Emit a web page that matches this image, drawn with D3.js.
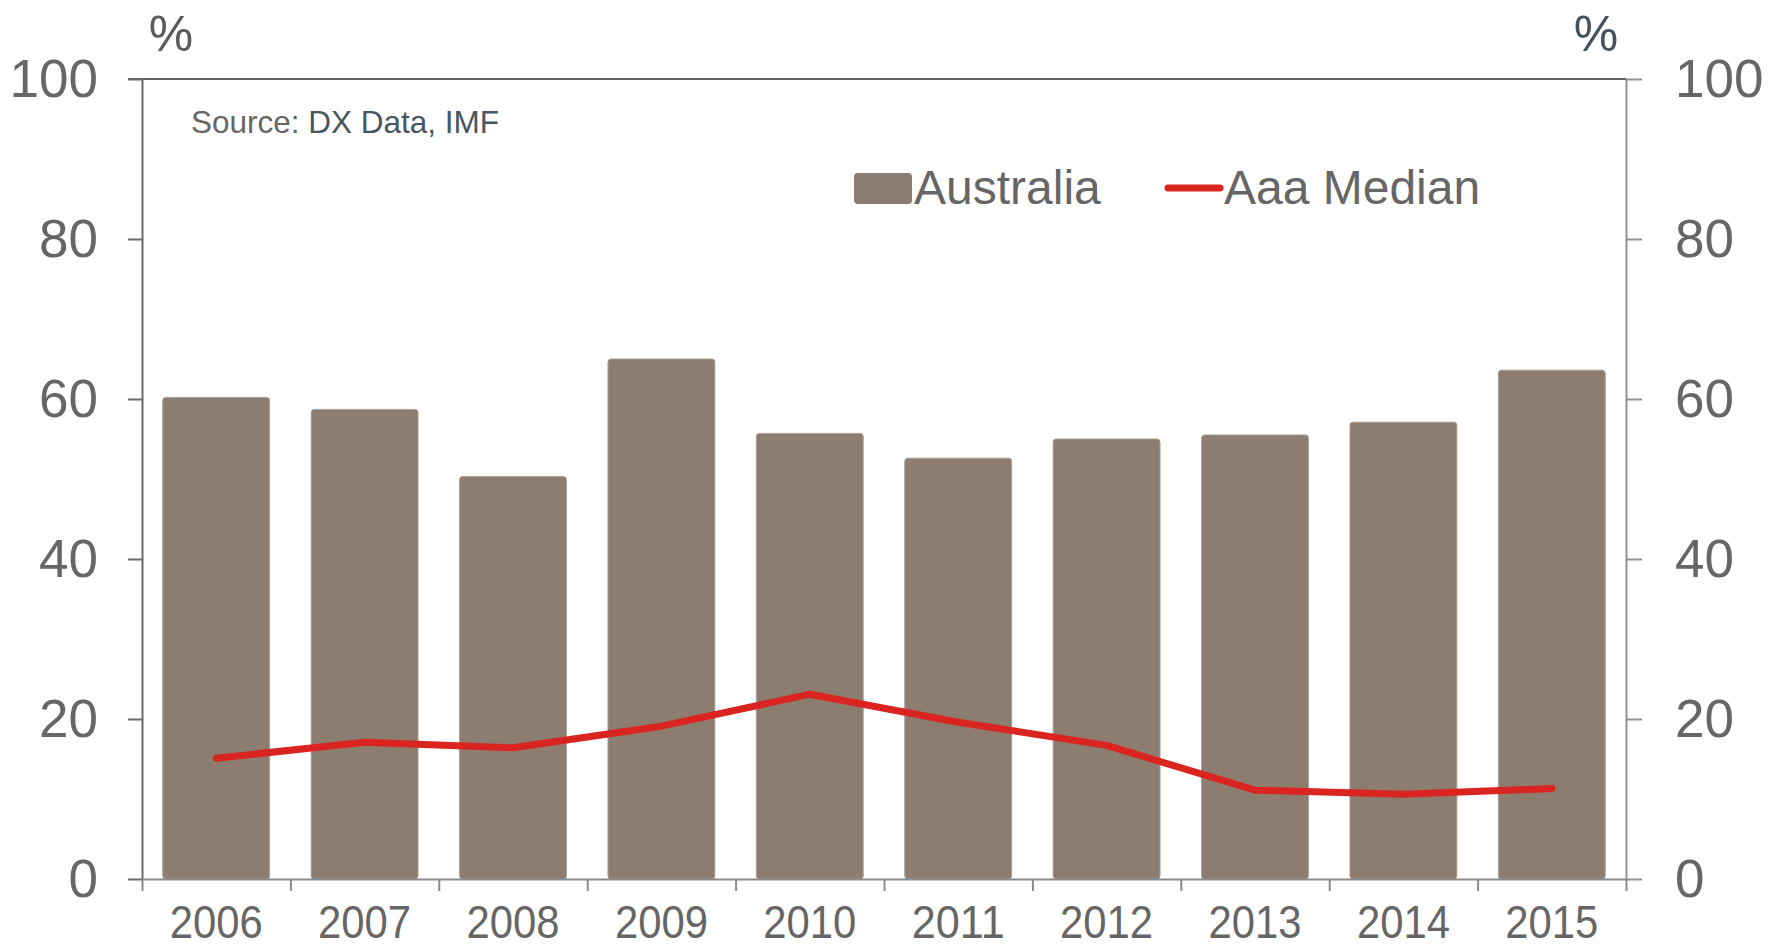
<!DOCTYPE html>
<html>
<head>
<meta charset="utf-8">
<script src="https://cdn.jsdelivr.net/npm/d3@7"></script>
<style>
  body { margin: 0; background: #fff; }
  text { font-family: "Liberation Sans", Arial, sans-serif; }
</style>
</head>
<body>
<div id="chart-area"></div>
<script>
/*
*    main.js
*/

var years = ["2006", "2007", "2008", "2009", "2010", "2011", "2012", "2013", "2014", "2015"];
var australia = [60.2, 58.7, 50.3, 65.0, 55.7, 52.6, 55.0, 55.5, 57.1, 63.6];
var aaaMedian = [15.1, 17.1, 16.4, 19.1, 23.1, 19.6, 16.7, 11.1, 10.6, 11.3];
var yTicks = [0, 20, 40, 60, 80, 100];
var seriesNames = ["Australia", "Aaa Median"];
var sourceLabel = ["Source: ", "DX Data, IMF"];

var margin = {left: 142, right: 155, top: 79, bottom: 69};
var width = 1781 - margin.left - margin.right;
var height = 948 - margin.top - margin.bottom;

var barColor = "#8c7d70";
var lineColor = "#da2420";

var svg = d3.select("#chart-area")
  .append("svg")
    .attr("width", 1781)
    .attr("height", 948);

var g = svg.append("g")
    .attr("transform", "translate(" + margin.left + ", " + margin.top + ")");

var x = d3.scaleBand()
    .domain(years)
    .range([0, width])
    .paddingInner(0.28)
    .paddingOuter(0.14);

var y = d3.scaleLinear()
    .domain([0, 100])
    .range([height, 0]);

// boundaries between categories, for the bottom ticks
var xEdge = d3.scaleLinear()
    .domain([0, years.length])
    .range([0, width]);

// bars
g.selectAll("rect.bar").data(australia)
  .enter()
  .append("rect")
    .attr("class", "bar")
    .attr("x", (d, i) => x(years[i]))
    .attr("y", (d) => y(d))
    .attr("width", x.bandwidth())
    .attr("height", (d) => height - y(d))
    .attr("rx", 3)
    .attr("fill", barColor)
    .attr("stroke", "#a89d93")
    .attr("stroke-width", 1);

// top border
g.append("line")
    .attr("x1", -14)
    .attr("x2", width)
    .attr("y1", 0)
    .attr("y2", 0)
    .attr("stroke", "#666")
    .attr("stroke-width", 2);

// left axis
var leftAxis = d3.axisLeft(y)
    .tickValues(yTicks)
    .tickSize(14)
    .tickSizeOuter(0)
    .tickPadding(30);
var gl = g.append("g")
    .attr("class", "left axis")
    .call(leftAxis);
gl.select(".domain").attr("stroke", "#6a6a6a").attr("stroke-width", 2);
gl.selectAll(".tick line").attr("stroke", "#6a6a6a").attr("stroke-width", 2);
gl.selectAll(".tick text")
    .attr("font-size", "53px")
    .attr("fill", "#666")
    .attr("dy", "0.33em");

// right axis
var rightAxis = d3.axisRight(y)
    .tickValues(yTicks)
    .tickSize(16)
    .tickSizeOuter(0)
    .tickPadding(33);
var gr = g.append("g")
    .attr("class", "right axis")
    .attr("transform", "translate(" + width + ", 0)")
    .call(rightAxis);
gr.select(".domain").attr("stroke", "#929292").attr("stroke-width", 2);
gr.selectAll(".tick line").attr("stroke", "#929292").attr("stroke-width", 2);
gr.selectAll(".tick text")
    .attr("font-size", "53px")
    .attr("fill", "#666")
    .attr("dy", "0.33em");

// bottom axis: ticks at category edges
var edgeAxis = d3.axisBottom(xEdge)
    .tickValues(d3.range(0, years.length + 1))
    .tickSize(12)
    .tickSizeOuter(0)
    .tickFormat("");
var ge = g.append("g")
    .attr("class", "bottom axis")
    .attr("transform", "translate(0, " + height + ")")
    .call(edgeAxis);
ge.select(".domain").attr("stroke", "#8a8a8a").attr("stroke-width", 2);
ge.selectAll(".tick line").attr("stroke", "#8a8a8a").attr("stroke-width", 2);

// bottom axis: year labels
var bottomAxis = d3.axisBottom(x).tickSize(0);
var gb = g.append("g")
    .attr("class", "bottom labels")
    .attr("transform", "translate(0, " + height + ")")
    .call(bottomAxis);
gb.select(".domain").remove();
gb.selectAll(".tick text")
    .attr("font-size", "46px")
    .attr("fill", "#666")
    .attr("y", 59)
    .attr("dy", 0)
    .attr("textLength", 93)
    .attr("lengthAdjust", "spacingAndGlyphs");

// Aaa median line
var line = d3.line()
    .x((d, i) => x(years[i]) + x.bandwidth() / 2)
    .y((d) => y(d));

g.append("path")
    .datum(aaaMedian)
    .attr("d", line)
    .attr("fill", "none")
    .attr("stroke", lineColor)
    .attr("stroke-width", 7)
    .attr("stroke-linecap", "round")
    .attr("stroke-linejoin", "round");

// % labels
svg.append("text")
    .attr("x", 171)
    .attr("y", 51)
    .attr("font-size", "50px")
    .attr("text-anchor", "middle")
    .attr("fill", "#5a5a5a")
    .text("%");

svg.append("text")
    .attr("x", 1596)
    .attr("y", 51)
    .attr("font-size", "50px")
    .attr("text-anchor", "middle")
    .attr("fill", "#44525c")
    .text("%");

// source note
var src = svg.append("text")
    .attr("x", 191)
    .attr("y", 133)
    .attr("font-size", "31.5px");
src.append("tspan").attr("fill", "#666").text(sourceLabel[0]);
src.append("tspan").attr("fill", "#475661").text(sourceLabel[1]);

// legend
var legend = svg.append("g").attr("class", "legend");
legend.append("rect")
    .attr("x", 854)
    .attr("y", 173)
    .attr("width", 58)
    .attr("height", 31)
    .attr("rx", 4)
    .attr("fill", barColor);
legend.append("text")
    .attr("x", 914)
    .attr("y", 204)
    .attr("font-size", "48px")
    .attr("fill", "#666")
    .text(seriesNames[0]);
legend.append("line")
    .attr("x1", 1168)
    .attr("x2", 1220)
    .attr("y1", 188)
    .attr("y2", 188)
    .attr("stroke", lineColor)
    .attr("stroke-width", 7)
    .attr("stroke-linecap", "round");
legend.append("text")
    .attr("x", 1224)
    .attr("y", 204)
    .attr("font-size", "48px")
    .attr("fill", "#666")
    .text(seriesNames[1]);
</script>
</body>
</html>
